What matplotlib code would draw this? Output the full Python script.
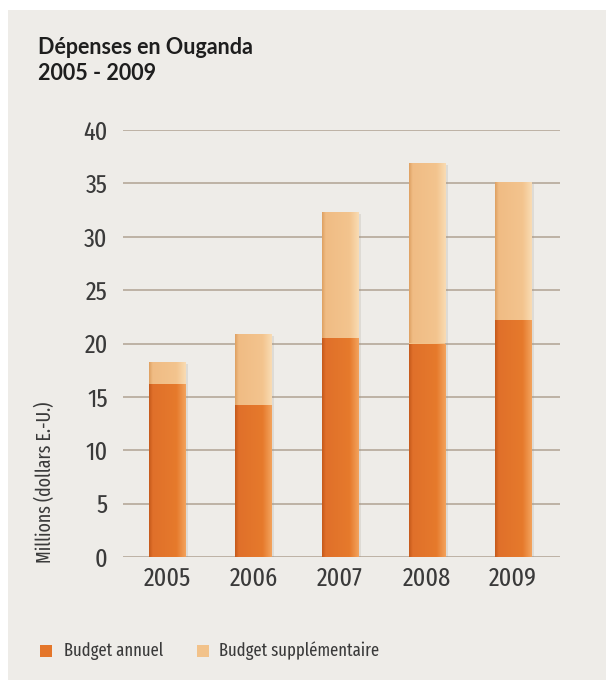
import numpy as np
import matplotlib.pyplot as plt
from matplotlib.colors import LinearSegmentedColormap
from matplotlib.patches import Rectangle

years = ['2005', '2006', '2007', '2008', '2009']
budget_annuel = [16.2, 14.2, 20.5, 20.0, 22.2]
budget_supp = [2.1, 6.7, 11.8, 16.9, 12.9]
yticks = [0, 5, 10, 15, 20, 25, 30, 35, 40]

c_annuel = '#e4762a'
c_supp = '#f2c28a'
c_grid = '#b9ad9f'
c_text = '#3a3a3a'
cond = 'Fira Sans Extra Condensed'
titlefont = 'Lato'

fig = plt.figure(figsize=(6.06, 6.80), dpi=100)
fig.patch.set_facecolor('white')
fig.patches.append(Rectangle((8 / 606, 0), 1, 1 - 10 / 680, transform=fig.transFigure,
                             facecolor='#eeece8', edgecolor='none', zorder=-10))

ax = fig.add_axes([123 / 606, 1 - 557 / 680, 437 / 606, 427 / 680])
ax.set_facecolor('none')
x = np.arange(len(years))
w = 0.42
bars1 = ax.bar(x, budget_annuel, width=w, color=c_annuel, zorder=3)
bars2 = ax.bar(x, budget_supp, width=w, bottom=budget_annuel, color=c_supp, zorder=3)

# soft shadow to the right of each bar
for b1, b2 in zip(bars1, bars2):
    top = b2.get_y() + b2.get_height()
    ax.add_patch(Rectangle((b1.get_x() + 0.03, 0), b1.get_width(), top - 0.2,
                           facecolor='#9a9080', alpha=0.18, edgecolor='none', zorder=2))

# bevel gradient across each bar
grad = np.linspace(0, 1, 256).reshape(1, -1)
cmap1 = LinearSegmentedColormap.from_list('a', [(0, '#c4581a'), (0.1, '#e0702a'), (0.75, '#e67a2c'), (1, '#f3a45e')])
cmap2 = LinearSegmentedColormap.from_list('b', [(0, '#dea061'), (0.1, '#f0bc84'), (0.75, '#f3c48e'), (1, '#f9dcb4')])
for bars, cm in ((bars1, cmap1), (bars2, cmap2)):
    for b in bars:
        x0, y0 = b.get_x(), b.get_y()
        im = ax.imshow(grad, extent=[x0, x0 + b.get_width(), y0, y0 + b.get_height()],
                       aspect='auto', cmap=cm, zorder=3.5, interpolation='bilinear')
        im.set_clip_path(b)

ax.set_ylim(0, 40)
ax.set_xlim(-0.51, 4.54)
ax.set_yticks(yticks)
ax.yaxis.grid(True, color=c_grid, linewidth=1.3, zorder=0)
for s in ax.spines.values():
    s.set_visible(False)
ax.tick_params(length=0)
ax.tick_params(axis='y', pad=11)
ax.tick_params(axis='x', pad=7)
ax.set_xticks(x)
ax.set_xticklabels(years)
for lab in ax.get_xticklabels() + ax.get_yticklabels():
    lab.set_fontfamily(cond)
    lab.set_color(c_text)
    lab.set_fontsize(19)

fig.text(45 / 606, 1 - 563 / 680, 'Millions (dollars E.-U.)', rotation=90,
         ha='center', va='bottom', fontsize=14, family=cond, color=c_text)

fig.text(38 / 606, 1 - 48 / 680, 'Dépenses en Ouganda', fontsize=15.5, fontweight='bold',
         family=titlefont, color='#1e1e1e', va='center')
fig.text(38 / 606, 1 - 74 / 680, '2005 - 2009', fontsize=15.5, fontweight='bold',
         family=titlefont, color='#1e1e1e', va='center')

# legend
fig.patches.append(Rectangle((40 / 606, 1 - 657 / 680), 12 / 606, 12 / 680,
                             transform=fig.transFigure, facecolor=c_annuel, edgecolor='none'))
fig.text(64 / 606, 1 - 651 / 680, 'Budget annuel', fontsize=13, family=cond,
         color=c_text, va='center')
fig.patches.append(Rectangle((197 / 606, 1 - 657 / 680), 12 / 606, 12 / 680,
                             transform=fig.transFigure, facecolor=c_supp, edgecolor='none'))
fig.text(219 / 606, 1 - 651 / 680, 'Budget supplémentaire', fontsize=13, family=cond,
         color=c_text, va='center')

fig.savefig('out.png', dpi=100)
